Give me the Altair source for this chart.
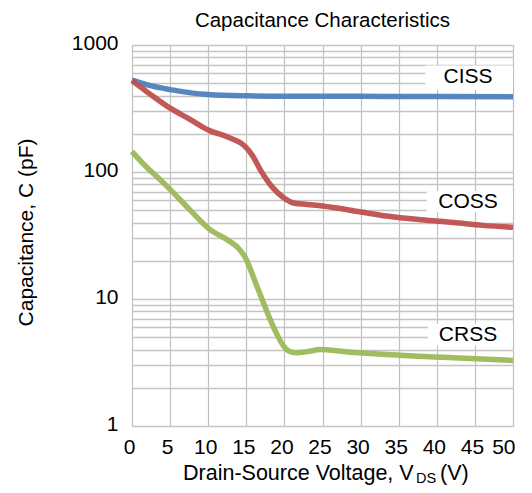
import altair as alt
import pandas as pd

# ---- data ----
ciss_v = [0, 2, 5, 8, 10, 15, 20, 30, 40, 50]
ciss_c = [528, 485, 445, 418, 408, 398, 395, 394, 393, 391]

coss_v = [0, 2.5, 5, 7.5, 10, 12.8, 14.8, 15.8, 16.8, 18.5, 19.9, 21.2, 23, 25, 30, 33.4, 38, 42.2, 46, 50]
coss_c = [525, 405, 318, 262, 214, 186, 160, 135, 105, 75, 62.7, 57, 55.5, 54, 48.5, 45, 42, 40, 38, 36.7]

crss_v = [0, 2, 3.7, 5, 7.5, 10.2, 12.8, 14, 15, 16, 17, 18, 19, 19.9, 21, 21.6, 23, 24.7, 28, 33.4, 42.2, 50]
crss_c = [145, 108, 87, 73, 51, 35.3, 28.5, 25, 20.5, 14.5, 10.2, 7.2, 5.3, 4.25, 3.8, 3.77, 3.85, 4.0, 3.85, 3.66, 3.44, 3.28]

series_names = ["CISS", "COSS", "CRSS"]
series_colors = ["#4F81BD", "#C0504D", "#9BBB59"]

label_x = [44.1, 44.1, 44.1]
label_y = [560, 58, 5.19]
box_x1 = [38.5, 38.7, 38.8]
box_y1 = [690, 70.6, 6.38]
box_y2 = [447, 48.2, 4.30]

x_ticks = list(range(0, 55, 5))
y_grid = [m * 10 ** e for e in range(0, 3) for m in range(1, 10)] + [1000]

xtitle_parts = ["Drain-Source Voltage, V", "DS", "(V)"]

FONT = "Liberation Sans"

rows = []
for name, xs, ys in zip(series_names, [ciss_v, coss_v, crss_v], [ciss_c, coss_c, crss_c]):
    for i, (a, b) in enumerate(zip(xs, ys)):
        rows.append({"series": name, "v": a, "c": b, "order": i})
df = pd.DataFrame(rows)

lab = pd.DataFrame({"name": series_names, "x": label_x, "y": label_y,
                    "bx1": box_x1, "bx2": [50] * 3, "by1": box_y1, "by2": box_y2})

xscale = alt.Scale(domain=[0, 50], nice=False, zero=False)
yscale = alt.Scale(type="log", domain=[1, 1000], nice=False)

xaxis = alt.Axis(values=x_ticks, grid=True, gridColor="#bfbfbf", gridWidth=1.2,
                 ticks=False, domain=False, labelFontSize=21, labelFont=FONT,
                 labelColor="black", labelPadding=10, title=None, labelFlush=False,
                 labelOverlap=False, labelSeparation=0,
                 labelAlign={"condition": {"test": "datum.value == 50", "value": "right"}, "value": "center"},
                 labelOffset={"condition": {"test": "datum.value == 50", "value": 2}, "value": -3})
yaxis = alt.Axis(values=y_grid, grid=True, gridColor="#c4c4c4", gridWidth=1.3,
                 ticks=False, domain=False, labelFontSize=21, labelFont=FONT,
                 labelColor="black", labelPadding=14, labelFlush=False,
                 labelExpr="indexof([1,10,100,1000], datum.value) >= 0 ? format(datum.value, 'd') : ''",
                 labelOverlap=False, labelOffset=-2,
                 title="Capacitance, C (pF)", titleFont=FONT, titleFontSize=21,
                 titleFontWeight="normal", titleColor="black", titleAngle=270,
                 titleX=-106, titleY=187, titleAlign="center", titleBaseline="middle")

boxes = alt.Chart(lab).mark_rect(color="white").encode(
    x=alt.X("bx1:Q", scale=xscale, axis=xaxis),
    x2="bx2:Q",
    y=alt.Y("by1:Q", scale=yscale, axis=yaxis),
    y2="by2:Q",
)

lines = alt.Chart(df).mark_line(strokeWidth=5.5, interpolate="monotone", opacity=0.95).encode(
    x=alt.X("v:Q", scale=xscale, axis=xaxis),
    y=alt.Y("c:Q", scale=yscale, axis=yaxis),
    color=alt.Color("series:N", scale=alt.Scale(domain=series_names, range=series_colors), legend=None),
    order="order:Q",
)

texts = alt.Chart(lab).mark_text(font=FONT, fontSize=21, color="black", align="center", baseline="middle").encode(
    x=alt.X("x:Q", scale=xscale, axis=xaxis),
    y=alt.Y("y:Q", scale=yscale, axis=yaxis),
    text="name:N",
)

xt_df = pd.DataFrame({"t": xtitle_parts,
                      "px": [51, 284, 308], "py": [435, 437.5, 435], "fs": [21.5, 14.5, 21.5]})
xtitle = alt.Chart(xt_df).mark_text(font=FONT, align="left", baseline="alphabetic", color="black").encode(
    x=alt.X("px:Q", scale=None),
    y=alt.Y("py:Q", scale=None),
    text="t:N",
    size=alt.Size("fs:Q", scale=None, legend=None),
)

chart = alt.layer(boxes, lines, texts, xtitle).properties(
    width=381, height=381,
    title=alt.TitleParams("Capacitance Characteristics", font=FONT, fontSize=20.5,
                          fontWeight="normal", color="black", anchor="middle", offset=1),
    autosize=alt.AutoSizeParams(type="none"),
    padding={"left": 124, "top": 37, "right": 10, "bottom": 59},
).configure_view(stroke="black", strokeWidth=1.5).configure_axis(
    labelOverlap=False
).configure(background="white")

chart.save("out.html", embed_options={"renderer": "svg", "actions": False})
